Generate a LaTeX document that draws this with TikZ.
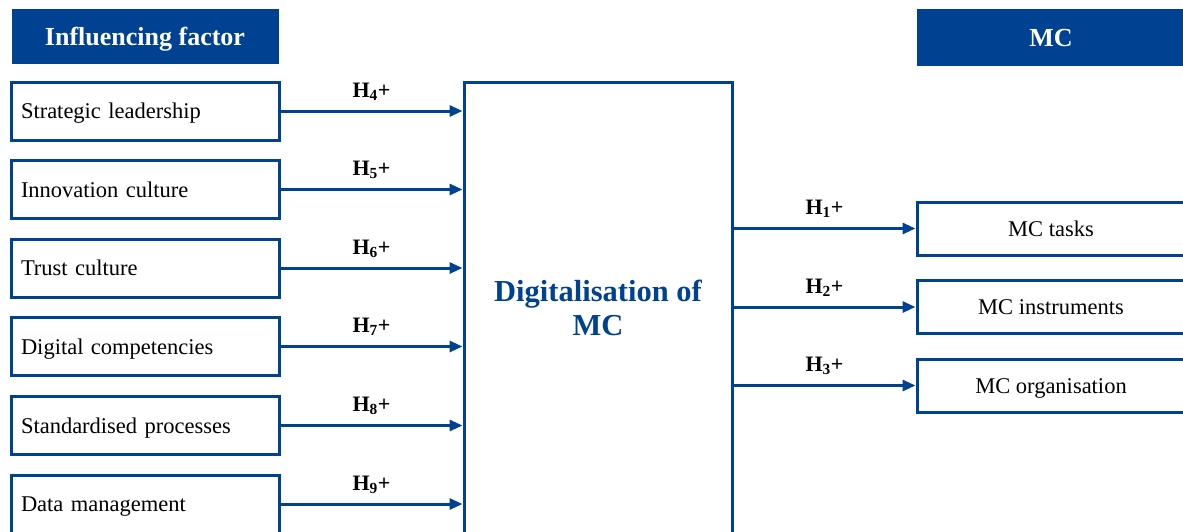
\documentclass[tikz,border=0pt]{standalone}
\usepackage{fontspec}
\setmainfont{Liberation Serif}
\usetikzlibrary{arrows.meta}
\definecolor{navy}{RGB}{0,66,146}
\begin{document}
\begin{tikzpicture}[x=1pt,y=-1pt,
  header/.style={fill=navy,draw=navy,text=white,font=\fontsize{26}{30}\selectfont\bfseries,
    minimum width=266pt,minimum height=54pt,inner sep=0pt,text height=18pt,text depth=0pt},
  factor/.style={draw=navy,line width=3pt,minimum width=268pt,minimum height=58pt,
    text width=248pt,align=left,inner xsep=10pt,inner ysep=0pt,
    text height=15pt,text depth=0pt,font=\fontsize{22.5}{26}\selectfont},
  outcome/.style={draw=navy,line width=3pt,minimum width=268pt,minimum height=53pt,
    inner sep=0pt,text height=15pt,text depth=0pt,font=\fontsize{22.5}{26}\selectfont},
  link/.style={draw=navy,line width=3pt,-{Triangle[length=13pt,width=11pt]}},
  hyp/.style={midway,anchor=base,yshift=14pt,inner sep=0pt,font=\fontsize{22}{26}\selectfont\bfseries},
]
\useasboundingbox (0,0) rectangle (1183,531);
\clip (0,0) rectangle (1183,531);

% column headers
\node[header] (hinf) at (145,36) {Influencing factor};
\node[header,minimum width=268pt,minimum height=56pt] (hmc) at (1051,37) {MC};

% influencing factors
\node[factor] (f4) at (145,111) {Strategic leadership};
\node[factor] (f5) at (145,189.5) {Innovation culture};
\node[factor] (f6) at (145,268) {Trust culture};
\node[factor] (f7) at (145,346.5) {Digital competencies};
\node[factor] (f8) at (145,425.5) {Standardised processes};
\node[factor] (f9) at (145,504) {Data management};

% central construct
\node[draw=navy,line width=3pt,minimum width=268pt,minimum height=500pt,inner sep=0pt,anchor=north]
  (dig) at (598,81) {};
\node[text=navy,font=\fontsize{30.5}{34}\selectfont\bfseries,align=center] (digtext) at (598,308)
  {Digitalisation of\\MC};

% management control elements
\node[outcome] (o1) at (1051,228.5) {MC tasks};
\node[outcome] (o2) at (1051,307) {MC instruments};
\node[outcome] (o3) at (1051,385.5) {MC organisation};

% hypotheses on the factors
\foreach \f/\h in {f4/4,f5/5,f6/6,f7/7,f8/8,f9/9}{
  \draw[link] (\f.east) -- (\f.east -| dig.west) node[hyp] {H\textsubscript{\h}+};
}
% hypotheses on MC
\foreach \o/\h in {o1/1,o2/2,o3/3}{
  \draw[link] (\o.west -| dig.east) -- (\o.west) node[hyp] {H\textsubscript{\h}+};
}
\end{tikzpicture}
\end{document}
